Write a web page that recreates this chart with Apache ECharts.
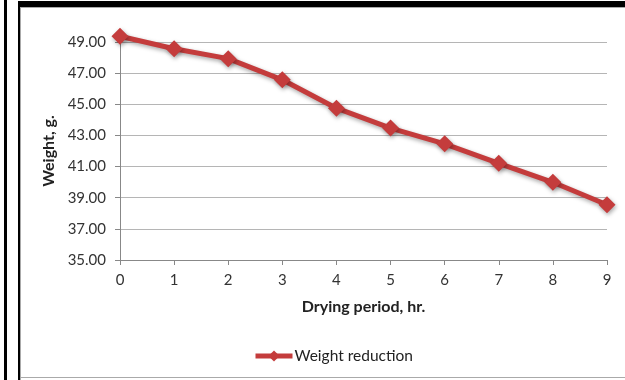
<!DOCTYPE html>
<html>
<head>
<meta charset="utf-8">
<script src="https://cdn.jsdelivr.net/npm/echarts@6/dist/echarts.min.js"></script>
<style>
html,body{margin:0;padding:0;background:#fff;}
#chart{width:625px;height:380px;}
</style>
</head>
<body>
<div id="chart"></div>
<script>
var categories = ['0','1','2','3','4','5','6','7','8','9'];
var weightReduction = [49.37, 48.57, 47.93, 46.57, 44.75, 43.47, 42.46, 41.21, 39.99, 38.55];
var seriesName = 'Weight reduction';
var xAxisTitle = 'Drying period, hr.';
var yAxisTitle = 'Weight, g.';

var chart = echarts.init(document.getElementById('chart'));
var fontFam = 'Lato, "Open Sans", sans-serif';
chart.setOption({
  animation: false,
  textStyle: {fontFamily: fontFam},
  graphic: [
    {type: 'rect', shape: {x: 4, y: 0, width: 3, height: 380}, style: {fill: '#000'}, z: 100},
    {type: 'rect', shape: {x: 18, y: 1, width: 607, height: 6}, style: {fill: '#000'}, z: 100},
    {type: 'rect', shape: {x: 18, y: 1, width: 2, height: 379}, style: {fill: '#000'}, z: 100},
    {type: 'rect', shape: {x: 20, y: 7, width: 1, height: 373}, style: {fill: '#aaa'}, z: 100},
    {type: 'rect', shape: {x: 20, y: 7, width: 605, height: 1}, style: {fill: '#aaa'}, z: 100},
    {type: 'rect', shape: {x: 20, y: 377, width: 605, height: 1}, style: {fill: '#aaa'}, z: 100}
  ],
  grid: {left: 120, right: 18, top: 42, bottom: 120},
  legend: {
    data: [seriesName],
    left: 248, top: 343,
    itemWidth: 37, itemHeight: 14, itemGap: 2,
    lineStyle: {width: 5, shadowBlur: 0, shadowOffsetX: 0, shadowOffsetY: 0},
    itemStyle: {shadowBlur: 0, shadowOffsetX: 0, shadowOffsetY: 0},
    textStyle: {fontSize: 15.5, color: '#222', fontFamily: fontFam, padding: [0,0,0,-3]}
  },
  xAxis: {
    type: 'category',
    data: categories,
    boundaryGap: false,
    name: xAxisTitle,
    nameLocation: 'middle',
    nameGap: 39,
    nameTextStyle: {fontSize: 16, fontWeight: 'bold', color: '#222', fontFamily: fontFam},
    axisLine: {lineStyle: {color: '#888', width: 1}},
    axisTick: {show: true, length: 5, lineStyle: {color: '#888'}},
    axisLabel: {fontSize: 15, color: '#333', margin: 13, fontFamily: fontFam},
    splitLine: {show: false}
  },
  yAxis: {
    type: 'value',
    min: 35, max: 49, interval: 2,
    name: yAxisTitle,
    nameLocation: 'middle',
    nameGap: 60,
    nameRotate: 90,
    nameTextStyle: {fontSize: 16, fontWeight: 'bold', color: '#222', fontFamily: fontFam},
    axisLine: {show: true, lineStyle: {color: '#888', width: 1}},
    axisTick: {show: true, length: 5, lineStyle: {color: '#888'}},
    axisLabel: {fontSize: 15, color: '#333', margin: 14, fontFamily: fontFam,
      formatter: function(v){ return v.toFixed(2); }},
    splitLine: {show: true, lineStyle: {color: '#b5b5b5', width: 1}}
  },
  series: [{
    name: seriesName,
    type: 'line',
    data: weightReduction,
    clip: false,
    symbol: 'diamond',
    symbolSize: 17,
    color: '#c43c3c',
    lineStyle: {width: 5, color: '#c43c3c', shadowBlur: 4, shadowColor: 'rgba(0,0,0,0.35)', shadowOffsetX: 1, shadowOffsetY: 2},
    itemStyle: {color: '#c43c3c', shadowBlur: 4, shadowColor: 'rgba(0,0,0,0.35)', shadowOffsetX: 1, shadowOffsetY: 2}
  }]
});
</script>
</body>
</html>
